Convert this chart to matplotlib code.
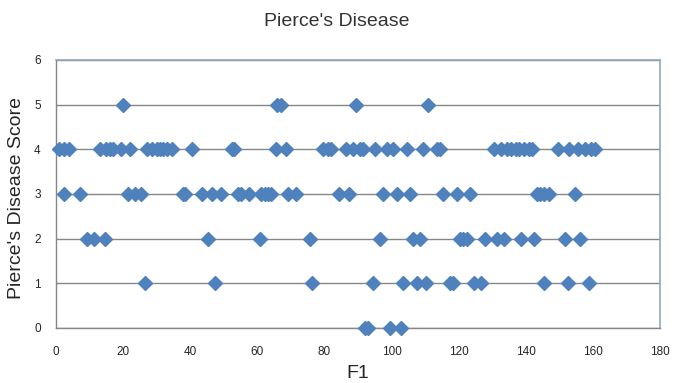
import matplotlib
matplotlib.use("Agg")
import matplotlib.pyplot as plt

# F1 values for each disease score
score5 = [20, 66, 67, 89.5, 111]
score4 = [1, 2.5, 4, 13, 15, 16, 17, 19.5, 22, 27, 28.5, 30, 31, 32, 33, 34.5,
          40.5, 52.5, 53, 65.5, 68.5, 79.5, 81, 82, 86.5, 88.5, 90.5, 91.5, 95,
          98.5, 100.5, 104.5, 109.5, 113.5, 114.5, 130.5, 132.5, 134.5, 135.5,
          137, 138, 139.5, 141, 142, 149.5, 153, 155.5, 157.5, 159.5, 160.5]
score3 = [2.5, 7.3, 21.6, 23.4, 25.4, 37.8, 38.5, 43.5, 46.5, 49.3, 54.2, 55.2,
          57.4, 61.2, 62.4, 63.2, 64.2, 69.2, 71.6, 84.4, 87.3, 97.5, 101.5,
          105.5, 115.4, 119.4, 123.4, 143.3, 144.3, 145.3, 146.8, 154.7]
score2 = [9.2, 11.2, 14.6, 45.3, 60.7, 75.6, 96.5, 106.5, 108.5, 120.4, 121.4,
          122.4, 127.7, 131.3, 133.5, 138.6, 142.5, 151.7, 156.2]
score1 = [26.4, 47.3, 76.4, 94.5, 103.3, 107.5, 110.4, 117.4, 118.4, 124.7,
          126.7, 145.5, 152.7, 158.7]
score0 = [92, 93, 99.5, 102.8]

groups = [(score0, 0), (score1, 1), (score2, 2), (score3, 3), (score4, 4), (score5, 5)]

plt.rcParams['font.family'] = ['Liberation Sans', 'DejaVu Sans']

fig = plt.figure(figsize=(6.73, 3.83), dpi=100)
ax = fig.add_axes([56 / 673, 1 - 328 / 383, 604 / 673, 268 / 383])

xs, ys = [], []
for vals, s in groups:
    xs += vals
    ys += [s] * len(vals)
ax.plot(xs, ys, linestyle='none', marker='D', markersize=6.8,
        color='#4F81BD', clip_on=False, zorder=3)

ax.set_xlim(0, 180)
ax.set_ylim(0, 6)
ax.set_xticks(range(0, 181, 20))
ax.set_yticks(range(0, 7))
ax.grid(axis='y', color='#868686', linewidth=1)
ax.set_axisbelow(True)

for side in ['top', 'right']:
    ax.spines[side].set_color('#8EA9C1')
    ax.spines[side].set_linewidth(1.2)
for side in ['left', 'bottom']:
    ax.spines[side].set_color('#868686')
    ax.spines[side].set_linewidth(1)

ax.tick_params(axis='both', length=0, labelsize=8.5, labelcolor='#262626')
ax.tick_params(axis='y', pad=11)
ax.tick_params(axis='x', pad=13)

fig.text(0.5, 0.945, "Pierce's Disease", ha='center', va='center',
         fontsize=14, color='#333333')
fig.text(0.531, 1 - 378 / 383, "F1", ha='center', va='baseline',
         fontsize=14, color='#262626')
fig.text(0.025, 1 - 198 / 383, "Pierce's Disease Score", ha='center', va='center',
         rotation=90, fontsize=14, color='#262626')

fig.savefig('out.png', dpi=100)
